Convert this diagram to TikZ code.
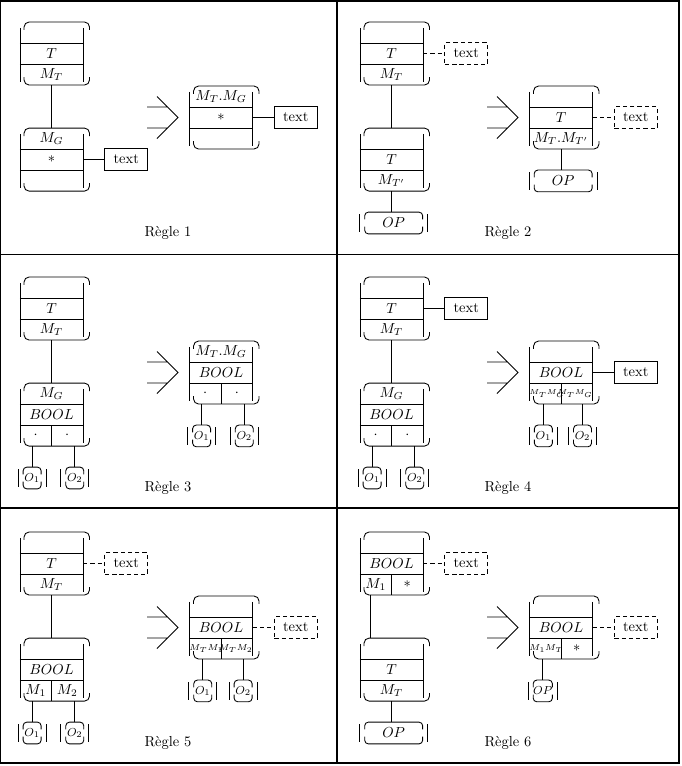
\documentclass[tikz,border=0pt]{standalone}
\usepackage{tikz}
\usetikzlibrary{positioning,calc}

\tikzset{
  cell/.style={minimum width=43.5pt,minimum height=14.5pt,inner sep=0pt,outer sep=0pt},
  half/.style={cell,minimum width=21.75pt},
  tag/.style={draw,line width=0.6pt,minimum width=29.5pt,minimum height=14.8pt,inner sep=0pt},
  dtag/.style={tag,dash pattern=on 3pt off 2pt},
  obox/.style={minimum width=12.4pt,minimum height=15pt,inner sep=0pt,outer sep=0pt,font=\footnotesize},
  opbox/.style={obox,minimum width=40pt,font=\normalsize},
  link/.style={line width=0.6pt},
  dlink/.style={link,dash pattern=on 3pt off 2pt},
  panel/.style={line width=1.2pt}
}
\newcommand{\sml}{\fontsize{6}{7}\selectfont}
\newcommand{\smlr}{\fontsize{5.5}{6}\selectfont}

% three-row table with bracket frame, first row placed by #2
\newcommand{\tabbox}[5]{%
  \node[cell,#2] (#1-1) {#3};
  \node[cell,below=0pt of #1-1] (#1-2) {#4};
  \node[cell,below=0pt of #1-2] (#1-3) {#5};
  \draw[link] (#1-1.south west) -- (#1-1.south east)
              (#1-2.south west) -- (#1-2.south east)
              ([yshift=-4pt]#1-1.north west) -- ([yshift=2pt]#1-3.south west)
              ([yshift=-4pt]#1-1.north east) -- ([yshift=2pt]#1-3.south east);
  \draw[link,rounded corners=3.5pt]
    ([shift={(2.8pt,-5.5pt)}]#1-1.north west) -- ([xshift=2.8pt]#1-1.north west)
      -- ([xshift=4.5pt]#1-1.north east) -- ([shift={(4.5pt,-5.5pt)}]#1-1.north east)
    ([shift={(2.8pt,5.5pt)}]#1-3.south west) -- ([xshift=2.8pt]#1-3.south west)
      -- ([xshift=4.5pt]#1-3.south east) -- ([shift={(4.5pt,5.5pt)}]#1-3.south east);
}
% split the last row in two
\newcommand{\splitrow}[3]{%
  \node[half,anchor=west] (#1-3a) at (#1-3.west) {#2};
  \node[half,anchor=east] (#1-3b) at (#1-3.east) {#3};
  \draw[link] (#1-3.north) -- (#1-3.south);
}
% bars and corners round a leaf node
\newcommand{\obars}[1]{%
  \draw[link,rounded corners=2.5pt]
    ([yshift=-5pt]#1.north west) -- (#1.north west) -- (#1.north east) -- ([yshift=-5pt]#1.north east)
    ([yshift=5pt]#1.south west) -- (#1.south west) -- (#1.south east) -- ([yshift=5pt]#1.south east);
  \draw[link] ([shift={(-3.5pt,-1.5pt)}]#1.north west) -- ([shift={(-3.5pt,1.5pt)}]#1.south west)
              ([shift={(3.5pt,-1.5pt)}]#1.north east) -- ([shift={(3.5pt,1.5pt)}]#1.south east);
}
% rewrite sign
\newcommand{\bigarrow}{%
  \draw[link] (147,107) -- (167,107) (147,128) -- (167,128)
              (157,96.5) -- (178,117.5) -- (157,138.5);
}

\begin{document}
\begin{tikzpicture}[x=0.69pt,y=-0.69pt]
  \useasboundingbox (0,0) rectangle (681,766);

  % Regle 1
  \begin{scope}
    \tabbox{p1a}{at={(51.5,32.5)}}{}{$T$}{$M_T$}
    \tabbox{p1b}{below=29.7pt of p1a-3}{$M_G$}{$*$}{}
    \draw[link] (p1a-3.south) -- (p1b-1.north);
    \node[tag,right=14.8pt of p1b-2] (p1t) {text};
    \draw[link] (p1b-2.east) -- (p1t.west);
    \bigarrow
    \tabbox{p1c}{at={(221,96.5)}}{$M_T.M_G$}{$*$}{}
    \node[tag,right=14.8pt of p1c-2] (p1u) {text};
    \draw[link] (p1c-2.east) -- (p1u.west);
    \node (p1r) at (168,233) {Règle 1};
  \end{scope}

  % Regle 2
  \begin{scope}[shift={(340,0)}]
    \tabbox{p2a}{at={(51.5,32.5)}}{}{$T$}{$M_T$}
    \node[dtag,right=14.8pt of p2a-2] (p2t) {text};
    \draw[dlink] (p2a-2.east) -- (p2t.west);
    \tabbox{p2b}{below=29.7pt of p2a-3}{}{$T$}{$M_{T'}$}
    \draw[link] (p2a-3.south) -- (p2b-1.north);
    \node[opbox,below=14.5pt of p2b-3,xshift=1.5pt] (p2o) {$OP$};
    \obars{p2o}
    \draw[link] (p2b-3.south) -- (p2b-3.south |- p2o.north);
    \bigarrow
    \tabbox{p2c}{at={(221,96.5)}}{}{$T$}{$M_T.M_{T'}$}
    \node[dtag,right=14.8pt of p2c-2] (p2u) {text};
    \draw[dlink] (p2c-2.east) -- (p2u.west);
    \node[opbox,below=14.5pt of p2c-3,xshift=1.5pt] (p2p) {$OP$};
    \obars{p2p}
    \draw[link] (p2c-3.south) -- (p2c-3.south |- p2p.north);
    \node (p2r) at (168,233) {Règle 2};
  \end{scope}

  % Regle 3
  \begin{scope}[shift={(0,255)}]
    \tabbox{p3a}{at={(51.5,32.5)}}{}{$T$}{$M_T$}
    \tabbox{p3b}{below=29.7pt of p3a-3}{$M_G$}{$BOOL$}{}
    \splitrow{p3b}{$\cdot$}{$\cdot$}
    \draw[link] (p3a-3.south) -- (p3b-1.north);
    \node[obox,below=14.5pt of p3b-3a,xshift=-2.5pt] (p3o1) {$O_1$};
    \node[obox,below=14.5pt of p3b-3b,xshift=5.2pt] (p3o2) {$O_2$};
    \obars{p3o1} \obars{p3o2}
    \draw[link] (p3o1.north) -- (p3o1.north |- p3b-3.south);
    \draw[link] (p3o2.north) -- (p3o2.north |- p3b-3.south);
    \bigarrow
    \tabbox{p3c}{at={(221,96.5)}}{$M_T.M_G$}{$BOOL$}{}
    \splitrow{p3c}{$\cdot$}{$\cdot$}
    \node[obox,below=14.5pt of p3c-3a,xshift=-2.5pt] (p3q1) {$O_1$};
    \node[obox,below=14.5pt of p3c-3b,xshift=5.2pt] (p3q2) {$O_2$};
    \obars{p3q1} \obars{p3q2}
    \draw[link] (p3q1.north) -- (p3q1.north |- p3c-3.south);
    \draw[link] (p3q2.north) -- (p3q2.north |- p3c-3.south);
    \node (p3r) at (168,233) {Règle 3};
  \end{scope}

  % Regle 4
  \begin{scope}[shift={(340,255)}]
    \tabbox{p4a}{at={(51.5,32.5)}}{}{$T$}{$M_T$}
    \node[tag,right=14.8pt of p4a-2] (p4t) {text};
    \draw[link] (p4a-2.east) -- (p4t.west);
    \tabbox{p4b}{below=29.7pt of p4a-3}{$M_G$}{$BOOL$}{}
    \splitrow{p4b}{$\cdot$}{$\cdot$}
    \draw[link] (p4a-3.south) -- (p4b-1.north);
    \node[obox,below=14.5pt of p4b-3a,xshift=-2.5pt] (p4o1) {$O_1$};
    \node[obox,below=14.5pt of p4b-3b,xshift=5.2pt] (p4o2) {$O_2$};
    \obars{p4o1} \obars{p4o2}
    \draw[link] (p4o1.north) -- (p4o1.north |- p4b-3.south);
    \draw[link] (p4o2.north) -- (p4o2.north |- p4b-3.south);
    \bigarrow
    \tabbox{p4c}{at={(221,96.5)}}{}{$BOOL$}{}
    \splitrow{p4c}{\smlr$M_TM_G$}{\smlr$M_TM_G$}
    \node[tag,right=14.8pt of p4c-2] (p4u) {text};
    \draw[link] (p4c-2.east) -- (p4u.west);
    \node[obox,below=14.5pt of p4c-3a,xshift=-2.5pt] (p4q1) {$O_1$};
    \node[obox,below=14.5pt of p4c-3b,xshift=5.2pt] (p4q2) {$O_2$};
    \obars{p4q1} \obars{p4q2}
    \draw[link] (p4q1.north) -- (p4q1.north |- p4c-3.south);
    \draw[link] (p4q2.north) -- (p4q2.north |- p4c-3.south);
    \node (p4r) at (168,233) {Règle 4};
  \end{scope}

  % Regle 5
  \begin{scope}[shift={(0,510)}]
    \tabbox{p5a}{at={(51.5,32.5)}}{}{$T$}{$M_T$}
    \node[dtag,right=14.8pt of p5a-2] (p5t) {text};
    \draw[dlink] (p5a-2.east) -- (p5t.west);
    \tabbox{p5b}{below=29.7pt of p5a-3}{}{$BOOL$}{}
    \splitrow{p5b}{$M_1$}{$M_2$}
    \draw[link] (p5a-3.south) -- (p5b-1.north);
    \node[obox,below=14.5pt of p5b-3a,xshift=-2.5pt] (p5o1) {$O_1$};
    \node[obox,below=14.5pt of p5b-3b,xshift=5.2pt] (p5o2) {$O_2$};
    \obars{p5o1} \obars{p5o2}
    \draw[link] (p5o1.north) -- (p5o1.north |- p5b-3.south);
    \draw[link] (p5o2.north) -- (p5o2.north |- p5b-3.south);
    \bigarrow
    \tabbox{p5c}{at={(221,96.5)}}{}{$BOOL$}{}
    \splitrow{p5c}{\sml$M_TM_1$}{\sml$M_TM_2$}
    \node[dtag,right=14.8pt of p5c-2] (p5u) {text};
    \draw[dlink] (p5c-2.east) -- (p5u.west);
    \node[obox,below=14.5pt of p5c-3a,xshift=-2.5pt] (p5q1) {$O_1$};
    \node[obox,below=14.5pt of p5c-3b,xshift=5.2pt] (p5q2) {$O_2$};
    \obars{p5q1} \obars{p5q2}
    \draw[link] (p5q1.north) -- (p5q1.north |- p5c-3.south);
    \draw[link] (p5q2.north) -- (p5q2.north |- p5c-3.south);
    \node (p5r) at (168,233) {Règle 5};
  \end{scope}

  % Regle 6
  \begin{scope}[shift={(340,510)}]
    \tabbox{p6a}{at={(51.5,32.5)}}{}{$BOOL$}{}
    \splitrow{p6a}{$M_1$}{$*$}
    \node[dtag,right=14.8pt of p6a-2] (p6t) {text};
    \draw[dlink] (p6a-2.east) -- (p6t.west);
    \tabbox{p6b}{below=29.7pt of p6a-3}{}{$T$}{$M_T$}
    \draw[link] ([xshift=-4pt]p6a-3a.south) -- ([xshift=-4pt]p6a-3a.south |- p6b-1.north);
    \node[opbox,below=14.5pt of p6b-3,xshift=1.5pt] (p6o) {$OP$};
    \obars{p6o}
    \draw[link] (p6b-3.south) -- (p6b-3.south |- p6o.north);
    \bigarrow
    \tabbox{p6c}{at={(221,96.5)}}{}{$BOOL$}{}
    \splitrow{p6c}{\sml$M_1M_T$}{$*$}
    \node[dtag,right=14.8pt of p6c-2] (p6u) {text};
    \draw[dlink] (p6c-2.east) -- (p6u.west);
    \node[obox,below=14.5pt of p6c-3a,xshift=-2.5pt] (p6p) {$OP$};
    \obars{p6p}
    \draw[link] (p6p.north) -- (p6p.north |- p6c-3.south);
    \node (p6r) at (168,233) {Règle 6};
  \end{scope}

  % table rules
  \draw[panel] (0.6,1) rectangle (679,763);
  \draw[panel] (337,1) -- (337,763);
  \draw[panel] (0.6,254.5) -- (679,254.5) (0.6,508) -- (679,508);
\end{tikzpicture}
\end{document}
